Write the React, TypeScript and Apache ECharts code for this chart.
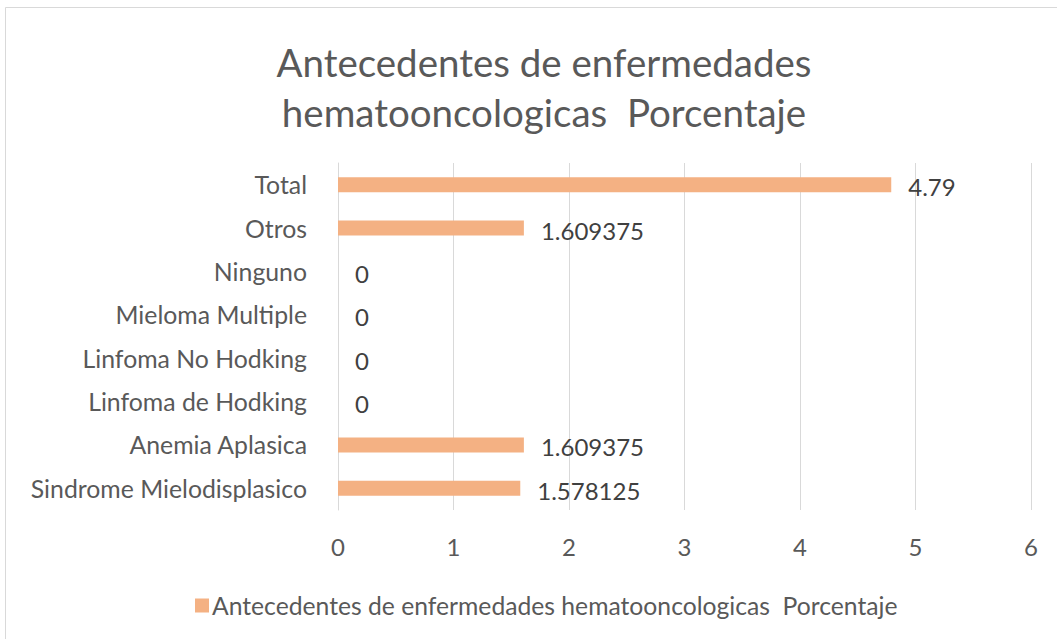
import React, { useEffect, useRef } from "react";
import * as echarts from "echarts";

const categories = [
  "Sindrome Mielodisplasico",
  "Anemia Aplasica",
  "Linfoma de Hodking",
  "Linfoma No Hodking",
  "Mieloma Multiple",
  "Ninguno",
  "Otros",
  "Total",
];
const values = [1.578125, 1.609375, 0, 0, 0, 0, 1.609375, 4.79];
const seriesName = "Antecedentes de enfermedades hematooncologicas  Porcentaje";
const titleLines = ["Antecedentes de enfermedades", "hematooncologicas  Porcentaje"];

const FONT = "Lato, Carlito, Calibri, sans-serif";

export default function App() {
  const ref = useRef<HTMLDivElement>(null);
  useEffect(() => {
    if (!ref.current) return;
    const chart = echarts.init(ref.current, null, { renderer: "svg" });
    chart.setOption({
      animation: false,
      backgroundColor: "#ffffff",
      textStyle: { fontFamily: FONT },
      graphic: [
        {
          type: "rect",
          shape: { x: 5.5, y: 7.5, width: 1100, height: 700 },
          style: { fill: "none", stroke: "#d9d9d9", lineWidth: 1 },
          silent: true,
        },
      ],
      title: {
        text: titleLines.join("\n"),
        left: 539,
        textAlign: "center",
        top: 32,
        textStyle: {
          fontFamily: FONT,
          fontSize: 38.5,
          fontWeight: "normal",
          color: "#595959",
          lineHeight: 50,
        },
      },
      legend: {
        data: [seriesName],
        left: 190,
        top: 588,
        itemWidth: 14,
        itemHeight: 14,
        itemGap: 10,
        icon: "rect",
        textStyle: { fontFamily: FONT, fontSize: 24.7, color: "#595959", padding: [0, 0, 0, -2] },
      },
      grid: { left: 338, right: 26, top: 163, bottom: 129, containLabel: false },
      xAxis: {
        type: "value",
        min: 0,
        max: 6,
        interval: 1,
        axisLine: { show: false },
        axisTick: { show: false },
        splitLine: { show: true, lineStyle: { color: "#d9d9d9", width: 1 } },
        axisLabel: { fontFamily: FONT, fontSize: 24, color: "#595959", margin: 24 },
      },
      yAxis: {
        type: "category",
        data: categories,
        axisLine: { show: true, lineStyle: { color: "#d9d9d9", width: 1 } },
        axisTick: { show: false },
        axisLabel: { fontFamily: FONT, fontSize: 24.8, color: "#595959", margin: 31 },
      },
      series: [
        {
          name: seriesName,
          type: "bar",
          data: values,
          barWidth: 15,
          itemStyle: { color: "#f4b183" },
          label: {
            show: true,
            position: "right",
            distance: 17,
            fontFamily: FONT,
            fontSize: 24,
            color: "#404040",
            offset: [0, 2],
          },
        },
      ],
    });
    return () => chart.dispose();
  }, []);
  return (
    <div
      ref={ref}
      style={{ position: "absolute", left: 0, top: 0, width: 1057, height: 639 }}
    />
  );
}
